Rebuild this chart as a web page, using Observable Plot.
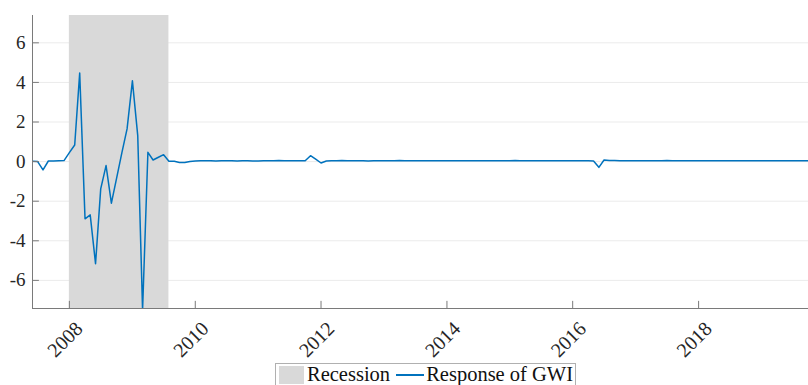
<!DOCTYPE html>
<html>
<head>
<meta charset="utf-8">
<script src="https://cdn.jsdelivr.net/npm/d3@7"></script>
<script src="https://cdn.jsdelivr.net/npm/@observablehq/plot@0.6"></script>
<style>
  body { margin: 0; background: #fff; }
  #wrap { position: relative; width: 808px; height: 385px; overflow: hidden; }
  #legend {
    position: absolute; left: 275px; top: 363px; height: 23px;
    border: 1px solid #b0b0b0; background: #fff; box-sizing: border-box;
    display: flex; align-items: center; padding: 0 2px 0 3px;
    font-family: "Liberation Serif", serif; font-size: 20.5px; color: #111;
    white-space: nowrap;
  }
  .sw { display: inline-block; width: 25px; height: 18px; background: #d9d9d9; margin-right: 3px; }
  .ln { display: inline-block; width: 28px; height: 2px; background: #0072BD; margin: 0 2px 0 6px; }
</style>
</head>
<body>
<div id="wrap"><div id="chart"></div>
<div id="legend"><span class="sw"></span>Recession<span class="ln"></span>Response of GWI</div>
</div>
<script>
// Monthly responses, June 2007 onward
const v2007 = [0.02, 0.00, -0.42, 0.03, 0.03, 0.04, 0.05]; // Jun-Dec
const v2008 = [0.45, 0.84, 4.47, -2.89, -2.69, -5.16, -1.38, -0.20, -2.10, -0.85, 0.45, 1.65];
const v2009 = [4.08, 1.31, -7.50, 0.47, 0.08, 0.22, 0.35, 0.02, 0.02, -0.04, -0.05, 0.01];
const v2010 = [0.03, 0.04, 0.04, 0.04, 0.03, 0.04, 0.04, 0.04, 0.03, 0.04, 0.04, 0.03];
const v2011 = [0.03, 0.04, 0.04, 0.04, 0.05, 0.04, 0.04, 0.04, 0.04, 0.04, 0.30, 0.12];
const v2012 = [-0.07, 0.03, 0.04, 0.04, 0.05, 0.04, 0.04, 0.04, 0.04, 0.03, 0.04, 0.04];
const v2013 = [0.04, 0.04, 0.04, 0.05, 0.04, 0.04, 0.04, 0.04, 0.04, 0.04, 0.04, 0.04];
const v2014 = [0.04, 0.04, 0.04, 0.04, 0.04, 0.04, 0.04, 0.04, 0.04, 0.04, 0.04, 0.04];
const v2015 = [0.04, 0.06, 0.04, 0.04, 0.04, 0.04, 0.04, 0.04, 0.04, 0.04, 0.04, 0.04];
const v2016 = [0.04, 0.04, 0.04, 0.04, 0.03, -0.29, 0.08, 0.05, 0.05, 0.04, 0.04, 0.04];
const v2017 = [0.04, 0.04, 0.04, 0.04, 0.04, 0.04, 0.05, 0.04, 0.04, 0.04, 0.04, 0.04];
const v2018 = [0.04, 0.04, 0.04, 0.04, 0.04, 0.04, 0.04, 0.04, 0.04, 0.04, 0.04, 0.04];
const v2019 = [0.04, 0.04, 0.04, 0.04, 0.04, 0.04, 0.04, 0.04, 0.04, 0.04]; // Jan-Oct

const yearSeries = [[2007, 5, v2007], [2008, 0, v2008], [2009, 0, v2009], [2010, 0, v2010],
  [2011, 0, v2011], [2012, 0, v2012], [2013, 0, v2013], [2014, 0, v2014], [2015, 0, v2015],
  [2016, 0, v2016], [2017, 0, v2017], [2018, 0, v2018], [2019, 0, v2019]];

const recession = [{start: new Date(Date.UTC(2008, 0, 1)), end: new Date(Date.UTC(2009, 7, 1))}];
const xTickYears = [2008, 2010, 2012, 2014, 2016, 2018];
const xTickLabels = ["2008", "2010", "2012", "2014", "2016", "2018"];
const yTicks = [-6, -4, -2, 0, 2, 4, 6];
const yTickLabels = ["-6", "-4", "-2", "0", "2", "4", "6"];
const xDomain = [new Date(Date.UTC(2007, 5, 1)), new Date(Date.UTC(2019, 9, 1))];
const yDomain = [-7.42, 7.38];

const data = [];
for (const [yr, m0, vals] of yearSeries) {
  vals.forEach((v, i) => data.push({date: new Date(Date.UTC(yr, m0 + i, 1)), value: v}));
}
const xTicks = xTickYears.map((y, i) => ({date: new Date(Date.UTC(y, 0, 1)), label: xTickLabels[i]}));
const yTickRows = yTicks.map((v, i) => ({v, label: yTickLabels[i]}));

const font = "Liberation Serif";
const axisColor = "#7a7a7a";
const chart = Plot.plot({
  width: 808,
  height: 362,
  marginLeft: 32,
  marginRight: 0,
  marginTop: 15,
  marginBottom: 54,
  style: {background: "#fff"},
  x: {type: "utc", domain: xDomain, axis: null},
  y: {domain: yDomain, axis: null},
  marks: [
    Plot.ruleY(yTicks, {stroke: "#ebebeb", strokeWidth: 1}),
    Plot.rectX(recession, {x1: "start", x2: "end", y1: yDomain[0], y2: yDomain[1], fill: "#d9d9d9"}),
    Plot.line(data, {x: "date", y: "value", stroke: "#0072BD", strokeWidth: 1.5, clip: true}),
    Plot.ruleX(xTicks, {x: "date", y1: yDomain[0], y2: yDomain[0] + 0.36, stroke: axisColor}),
    Plot.ruleY(yTicks, {y: d => d, x1: xDomain[0], x2: d3.utcDay.offset(xDomain[0], 40), stroke: axisColor}),
    Plot.ruleX([xDomain[0]], {stroke: axisColor}),
    Plot.ruleY([yDomain[0]], {stroke: axisColor}),
    Plot.text(yTickRows, {x: xDomain[0], y: "v", text: "label", textAnchor: "end", dx: -7,
      fontSize: 19, fontFamily: font, fill: "#262626"}),
    Plot.text(xTicks, {x: "date", y: yDomain[0], text: "label", textAnchor: "end", rotate: -45,
      dx: 10, dy: 17, fontSize: 20, fontFamily: font, fill: "#262626"})
  ]
});
document.getElementById("chart").appendChild(chart);
</script>
</body>
</html>
